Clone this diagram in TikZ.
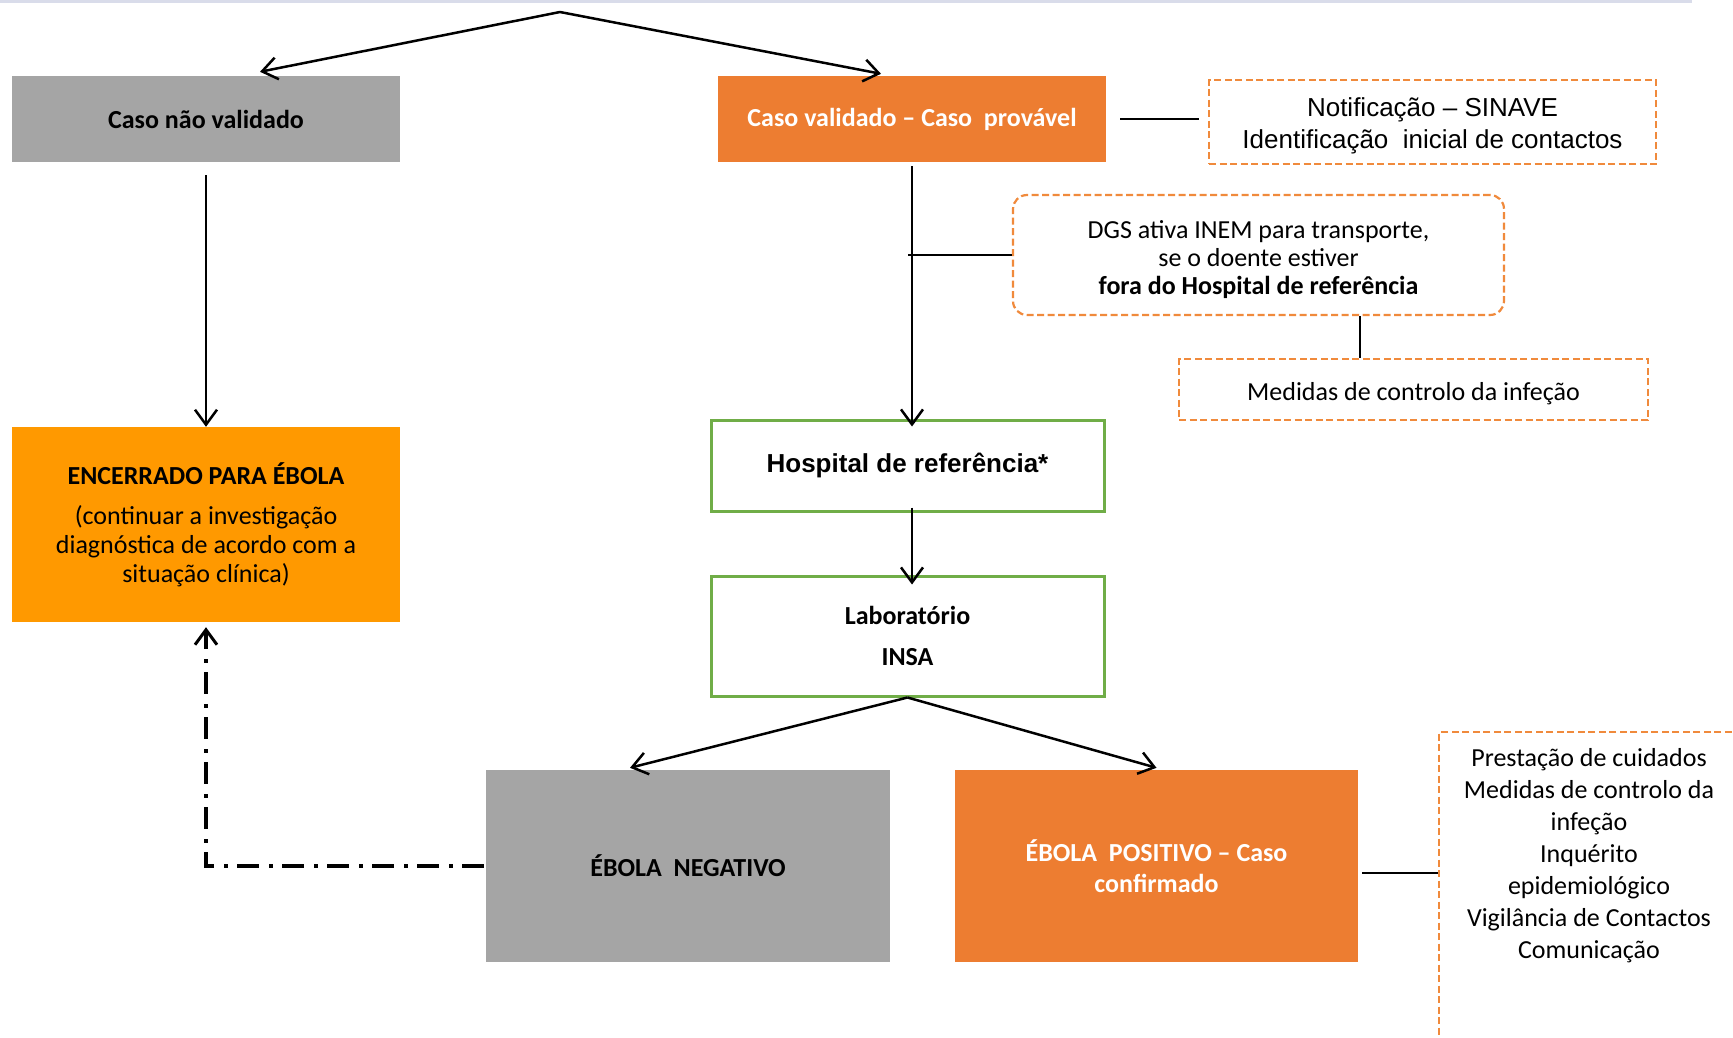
\documentclass[tikz,border=0pt]{standalone}
\usepackage{fontspec}
\setmainfont{Carlito}
\newfontfamily\arialf{Liberation Sans}
\usetikzlibrary{arrows.meta}
\definecolor{cgray}{HTML}{A5A5A5}
\definecolor{corange}{HTML}{ED7D31}
\definecolor{camber}{HTML}{FF9900}
\definecolor{cgreen}{HTML}{70AD47}
\definecolor{cdash}{HTML}{F08A3C}
\definecolor{ctop}{HTML}{D9DCEA}
\begin{document}
\begin{tikzpicture}[x=1pt,y=-1pt,
  base/.style={rectangle, inner sep=0pt, align=center, font=\fontsize{26}{29}\selectfont},
  grayb/.style={base, fill=cgray},
  orangeb/.style={base, fill=corange, text=white},
  amberb/.style={base, fill=camber},
  greenb/.style={base, draw=cgreen, line width=3pt},
  dashb/.style={base, draw=cdash, line width=2.2pt, dash pattern=on 7pt off 3.5pt},
  conn/.style={line width=2.5pt},
  arr/.style={conn, -{Straight Barb[length=15pt,width=22pt]}},
  dashdot/.style={line width=4pt, dash pattern=on 22pt off 9pt on 4pt off 10pt, -{Straight Barb[length=15pt,width=22pt,line width=3pt]}}
]
\useasboundingbox (0,0) rectangle (1733,1037);
\clip (0,0) rectangle (1733,1037);
\fill[white] (0,0) rectangle (1733,1037);
\fill[ctop] (0,0) rectangle (1692,3);

% nodes
\coordinate (apex) at (560,12);
\node[grayb, minimum width=388pt, minimum height=86pt, font=\fontsize{26}{29}\selectfont\bfseries] (cnv) at (206,119) {Caso não validado};
\node[orangeb, minimum width=388pt, minimum height=86pt, font=\fontsize{26}{29}\selectfont\bfseries] (cv) at (912,119) {Caso validado – Caso\ \ provável};
\node[dashb, minimum width=447pt, minimum height=84pt] (notif) at (1432.5,122) {};
\node[base, font=\arialf\fontsize{26}{32}\selectfont] (notift) at (1432.5,125.5) {Notificação – SINAVE\\Identificação\ \ inicial de contactos};
\node[dashb, rounded corners=14pt, minimum width=491pt, minimum height=120pt] (dgs) at (1258.5,255) {};
\node[base, font=\fontsize{26}{28}\selectfont] (dgst) at (1258.5,260) {DGS ativa INEM para transporte,\\se o doente estiver\\\textbf{fora do Hospital de referência}};
\node[dashb, minimum width=469pt, minimum height=61pt] (med) at (1413.5,389.5) {};
\node[base] (medt) at (1413.5,394) {Medidas de controlo da infeção};
\node[greenb, minimum width=393pt, minimum height=91pt, font=\arialf\bfseries\fontsize{26}{30}\selectfont] (hosp) at (907.5,465.5) {Hospital de referência*};
\node[greenb, minimum width=393pt, minimum height=120pt, font=\fontsize{26}{29}\selectfont\bfseries] (lab) at (907.5,636) {Laboratório\\[12pt]INSA};
\node[amberb, minimum width=388pt, minimum height=195pt] (enc) at (206,524.5) {\textbf{ENCERRADO PARA ÉBOLA}\\[11pt](continuar a investigação\\diagnóstica de acordo com a\\situação clínica)};
\node[grayb, minimum width=404pt, minimum height=192pt, font=\fontsize{26}{29}\selectfont\bfseries] (neg) at (688,866) {ÉBOLA\ \ NEGATIVO};
\node[orangeb, minimum width=403pt, minimum height=192pt, font=\fontsize{26}{31}\selectfont\bfseries] (pos) at (1156.5,866) {ÉBOLA\ \ POSITIVO – Caso\\confirmado};
\node[dashb, anchor=north west, minimum width=307pt, minimum height=340pt] (rbox) at (1438,731) {};
\node[base, font=\fontsize{26}{32}\selectfont] (rtext) at (1589,855.5) {Prestação de cuidados\\Medidas de controlo da\\infeção\\Inquérito\\epidemiológico\\Vigilância de Contactos\\Comunicação};

% connectors
\draw[arr] (apex) -- ([xshift=54pt,yshift=4pt]cnv.north);
\draw[arr] (apex) -- ([xshift=-31pt,yshift=2pt]cv.north);
\draw[conn, shorten <=14pt, shorten >=9pt] (cv.east) -- (cv.east -| notif.west);
\draw[arr, shorten <=4pt, shorten >=-8pt] (cv.south) -- (cv.south |- hosp.north);
\draw[conn, shorten <=-4pt] (dgs.west -| cv.south) -- (dgs.west);
\draw[conn] ([xshift=101.5pt]dgs.south) -- ([xshift=101.5pt]dgs.south |- med.north);
\draw[arr, shorten <=-5pt, shorten >=-10pt] (hosp.south -| cv.south) -- (lab.north -| cv.south);
\draw[conn, -{Straight Barb[length=15pt,width=22pt]}] (lab.south) -- ([xshift=-58pt,yshift=2pt]neg.north);
\draw[conn, -{Straight Barb[length=15pt,width=22pt]}] (lab.south) -- ([yshift=2pt]pos.north);
\draw[arr, shorten <=13pt] (cnv.south) -- (enc.north);
\draw[dashdot, shorten <=2pt, shorten >=5pt] (neg.west) -- (neg.west -| enc.south) -- (enc.south);
\draw[conn, shorten <=4pt] ([yshift=-7pt]pos.east) -- ([yshift=-7pt]pos.east -| rbox.west);
\end{tikzpicture}
\end{document}
